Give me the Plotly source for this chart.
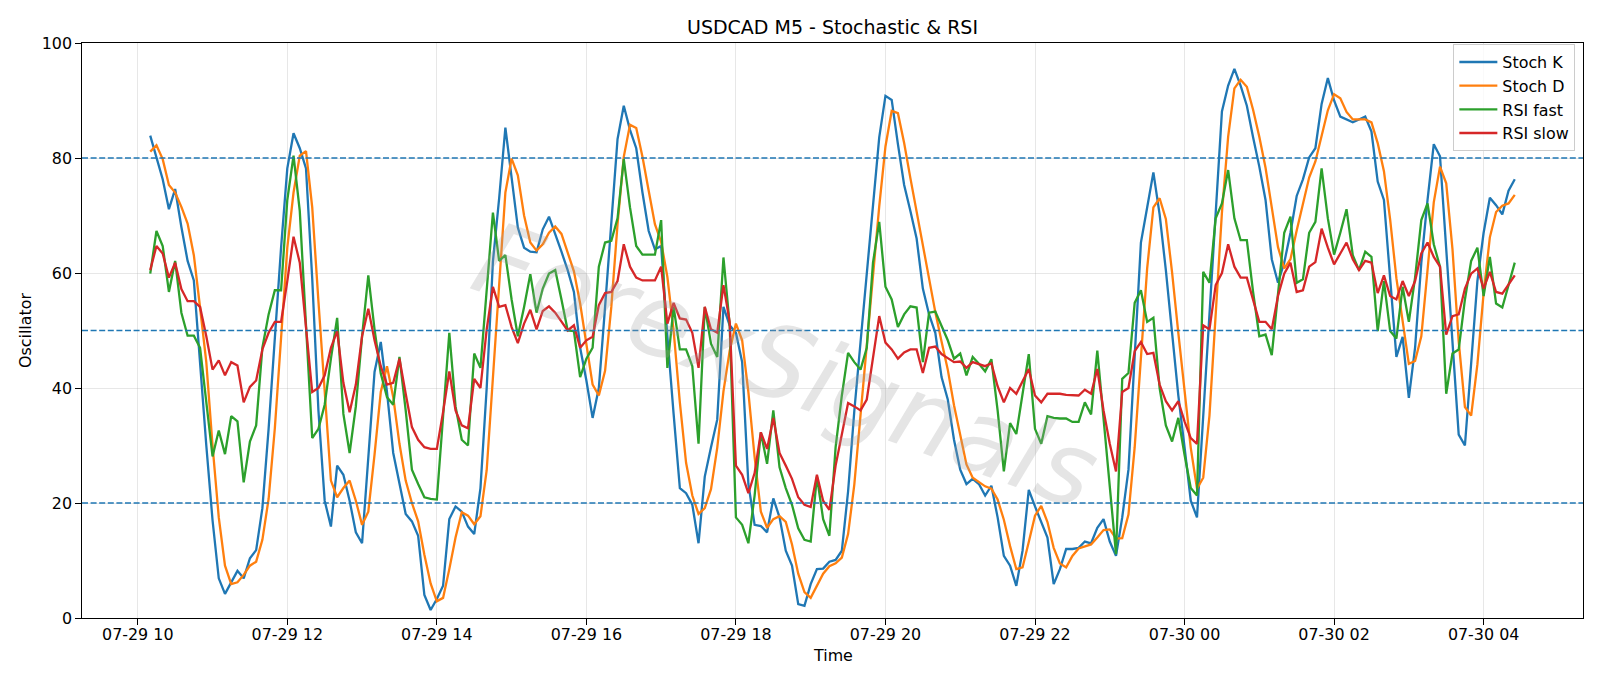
import pandas as pd
import plotly.graph_objects as go

# ---------------- data ----------------
start_time = "2025-07-29 10:10"
n_bars = 220
times = pd.date_range(start_time, periods=n_bars, freq="5min")

stoch_k = [
    83.9, 80.0, 76.3, 71.1, 74.6, 68.0, 62.1, 58.7, 44.0, 30.0,
    17.0, 6.9, 4.2, 6.3, 8.2, 6.9, 10.4, 11.8, 19.1, 32.9,
    49.0, 64.4, 78.2, 84.3, 81.7, 78.2, 59.0, 36.0, 20.4, 15.9,
    26.5, 24.9, 20.4, 14.9, 13.0, 27.7, 42.8, 48.0, 39.3, 28.7,
    23.3, 18.1, 16.8, 14.3, 4.0, 1.4, 3.3, 5.6, 17.2, 19.4,
    18.5, 15.9, 14.6, 22.6, 40.0, 62.0, 73.0, 85.3, 76.6, 67.9,
    64.4, 63.7, 63.6, 67.6, 69.8, 66.9, 63.7, 60.5, 56.7, 47.0,
    41.3, 34.8, 40.0, 54.1, 68.2, 83.3, 89.1, 84.9, 81.7, 74.0,
    67.3, 64.1, 64.7, 49.0, 35.5, 22.6, 21.7, 19.7, 13.0, 24.6,
    29.7, 34.5, 54.1, 50.9, 49.6, 44.5, 23.3, 16.2, 16.0, 14.9,
    20.8, 17.5, 11.7, 9.1, 2.4, 2.1, 5.9, 8.5, 8.6, 9.8,
    10.1, 11.7, 22.0, 36.0, 48.0, 59.5, 71.6, 83.6, 90.8, 90.1,
    82.4, 75.3, 70.8, 66.0, 57.3, 52.8, 49.6, 41.9, 38.0, 31.0,
    25.8, 23.3, 24.2, 23.3, 21.3, 23.0, 17.5, 10.8, 9.1, 5.6,
    11.7, 22.3, 19.4, 16.8, 14.0, 5.9, 8.5, 12.0, 12.0, 12.2,
    13.3, 13.0, 15.7, 17.2, 13.3, 10.8, 17.5, 25.8, 45.7, 65.3,
    71.4, 77.5, 70.2, 60.5, 49.6, 38.7, 29.7, 20.4, 17.5, 35.2,
    52.8, 70.5, 88.1, 92.6, 95.5, 92.6, 89.1, 83.6, 78.5, 72.7,
    62.4, 58.3, 61.8, 67.0, 73.4, 76.3, 80.1, 81.7, 89.4, 93.9,
    90.0, 87.2, 86.7, 86.2, 86.7, 87.2, 84.6, 75.9, 72.7, 59.2,
    45.4, 48.9, 38.3, 47.0, 61.8, 72.7, 82.4, 80.3, 64.2, 48.1,
    31.9, 30.0, 43.8, 58.6, 67.0, 73.1, 71.8, 70.2, 74.3, 76.3,
]

stoch_d = [
    81.1, 82.2, 79.8, 75.3, 74.0, 71.5, 68.6, 63.1, 54.0, 44.5,
    30.0, 17.5, 9.1, 5.9, 6.2, 7.5, 9.1, 9.8, 13.6, 20.7,
    33.0, 49.0, 64.4, 74.0, 80.4, 81.2, 71.4, 55.0, 38.5, 23.9,
    21.0, 22.6, 23.9, 20.4, 16.2, 18.5, 28.4, 39.3, 43.8, 38.4,
    30.3, 23.9, 20.0, 16.8, 11.0, 6.0, 2.9, 3.5, 8.5, 14.0,
    18.4, 17.8, 16.3, 17.7, 25.7, 41.5, 58.3, 74.0, 79.9, 77.0,
    70.0, 65.3, 63.9, 65.0, 67.0, 68.1, 66.8, 63.5, 60.3, 54.7,
    47.5, 40.6, 38.7, 43.0, 54.1, 68.5, 80.2, 85.8, 85.2, 80.2,
    74.3, 68.5, 65.4, 59.3, 50.0, 37.5, 27.0, 21.3, 18.1, 19.1,
    22.4, 29.6, 39.4, 46.5, 51.2, 48.3, 39.3, 28.0, 18.5, 15.7,
    17.2, 17.7, 16.7, 12.8, 7.7, 4.5, 3.5, 5.5, 7.7, 9.0,
    9.5, 10.5, 14.6, 23.2, 35.3, 47.8, 59.7, 71.6, 82.0, 88.2,
    87.8, 82.6, 76.5, 70.7, 64.7, 58.7, 53.2, 48.1, 43.2, 37.0,
    31.6, 26.7, 24.4, 23.6, 22.9, 22.5, 20.6, 17.1, 12.5, 8.5,
    8.8, 13.2, 17.8, 19.5, 16.7, 12.2, 9.5, 8.8, 10.8, 12.1,
    12.5, 12.8, 14.0, 15.3, 15.4, 13.8, 13.9, 18.0, 29.7, 45.6,
    60.8, 71.4, 73.0, 69.4, 60.1, 49.6, 39.3, 29.6, 22.5, 24.4,
    35.2, 52.8, 70.5, 83.7, 92.1, 93.6, 92.4, 88.4, 83.7, 78.3,
    71.2, 64.5, 60.8, 62.4, 67.4, 72.2, 76.6, 79.4, 83.7, 88.3,
    91.1, 90.4, 88.0, 86.7, 86.7, 86.7, 86.2, 82.6, 77.7, 69.3,
    59.1, 51.2, 44.2, 44.7, 49.0, 60.5, 72.3, 78.5, 75.6, 64.2,
    48.1, 36.7, 35.2, 44.1, 56.5, 66.2, 70.6, 71.7, 72.1, 73.6,
]

rsi_fast = [
    59.9, 67.3, 64.7, 56.7, 62.1, 53.1, 49.1, 49.1, 47.0, 37.4,
    28.1, 32.6, 28.5, 35.1, 34.2, 23.6, 30.7, 33.5, 47.0, 52.8,
    57.0, 57.0, 72.7, 80.4, 70.8, 50.9, 31.3, 32.9, 37.1, 45.1,
    52.2, 35.5, 28.7, 36.8, 49.0, 59.6, 50.2, 42.5, 38.4, 37.1,
    45.4, 36.1, 25.8, 23.3, 21.0, 20.7, 20.6, 35.0, 49.6, 36.8,
    31.0, 30.0, 46.0, 43.5, 57.3, 70.5, 62.1, 63.1, 55.4, 49.0,
    54.1, 59.8, 53.1, 57.3, 59.9, 60.5, 55.4, 50.0, 49.9, 41.9,
    45.1, 47.0, 61.1, 65.3, 65.6, 69.5, 79.8, 71.4, 64.7, 63.2,
    63.2, 63.2, 69.2, 43.5, 54.1, 46.7, 46.7, 43.8, 30.3, 54.1,
    47.7, 45.4, 62.7, 50.9, 17.5, 16.2, 13.0, 21.3, 32.3, 26.8,
    36.1, 26.2, 22.6, 19.7, 15.6, 13.6, 13.3, 24.6, 17.2, 14.3,
    29.7, 38.7, 46.1, 44.5, 43.2, 47.0, 61.8, 68.9, 57.6, 55.4,
    50.6, 52.8, 54.2, 54.0, 44.5, 53.1, 53.3, 50.9, 48.3, 45.1,
    46.0, 42.2, 45.4, 44.2, 42.9, 45.0, 36.1, 25.5, 33.9, 32.0,
    38.7, 45.9, 32.9, 30.3, 35.1, 34.8, 34.7, 34.7, 34.1, 34.1,
    37.5, 35.4, 46.5, 34.5, 22.6, 11.1, 41.6, 42.6, 54.8, 57.0,
    51.5, 52.2, 40.0, 33.5, 30.7, 34.8, 28.4, 22.6, 21.3, 60.2,
    58.3, 69.5, 72.1, 77.9, 69.5, 65.7, 65.7, 56.7, 49.0, 49.3,
    45.7, 56.7, 67.0, 69.8, 58.3, 58.9, 67.0, 68.9, 78.2, 69.5,
    63.2, 67.0, 71.1, 63.1, 60.5, 63.7, 62.8, 49.9, 58.6, 49.9,
    48.6, 57.6, 51.5, 59.2, 69.2, 72.1, 65.0, 61.1, 39.0, 46.0,
    46.7, 55.4, 62.1, 64.4, 56.0, 62.8, 54.7, 54.0, 58.0, 61.8,
]

rsi_slow = [
    60.5, 64.7, 63.4, 59.2, 61.8, 57.2, 55.1, 55.1, 54.1, 49.0,
    43.2, 44.8, 42.2, 44.5, 43.9, 37.5, 40.2, 41.3, 46.7, 49.6,
    51.5, 51.5, 58.6, 66.3, 61.8, 50.2, 39.3, 40.0, 42.2, 47.0,
    49.9, 40.9, 35.8, 40.6, 49.0, 53.8, 48.3, 43.8, 40.6, 40.9,
    45.1, 39.0, 33.2, 31.0, 29.7, 29.4, 29.4, 35.8, 42.9, 36.1,
    33.5, 33.0, 41.6, 40.0, 50.2, 57.6, 54.1, 54.4, 50.6, 47.8,
    51.2, 53.6, 50.2, 53.4, 54.2, 53.1, 51.5, 50.0, 50.9, 47.0,
    48.3, 48.9, 54.4, 56.5, 56.7, 58.6, 65.0, 61.1, 59.2, 58.7,
    58.7, 58.7, 61.1, 51.2, 54.8, 52.1, 51.9, 49.6, 43.5, 54.1,
    50.2, 49.6, 57.9, 51.5, 26.5, 24.9, 21.7, 25.2, 32.3, 29.4,
    34.8, 28.7, 26.5, 24.2, 21.0, 19.7, 19.3, 24.9, 20.4, 18.8,
    26.5, 32.3, 37.4, 36.8, 36.1, 38.0, 45.1, 52.5, 47.9, 46.7,
    45.1, 46.2, 46.7, 46.7, 42.6, 47.0, 47.2, 45.9, 45.2, 44.5,
    44.6, 43.5, 44.5, 44.2, 43.8, 44.3, 40.3, 37.5, 40.0, 39.0,
    41.2, 43.3, 38.7, 37.5, 39.0, 39.0, 39.0, 38.8, 38.7, 38.7,
    39.7, 39.0, 43.3, 36.1, 30.3, 25.5, 39.3, 40.0, 46.4, 48.0,
    45.9, 46.1, 40.6, 37.7, 36.1, 37.7, 34.2, 31.3, 30.3, 50.9,
    50.2, 57.9, 60.0, 65.0, 61.1, 59.2, 59.2, 55.4, 51.5, 51.5,
    50.2, 56.0, 59.9, 61.8, 56.7, 57.0, 61.1, 61.9, 67.7, 64.4,
    61.5, 63.4, 65.3, 62.4, 60.5, 62.1, 61.8, 56.5, 59.6, 56.0,
    55.4, 58.6, 56.0, 58.6, 63.4, 65.3, 62.8, 61.1, 49.3, 52.5,
    52.8, 57.3, 59.9, 60.8, 57.3, 60.2, 56.7, 56.4, 58.0, 59.6,
]

series_names = ["Stoch K", "Stoch D", "RSI fast", "RSI slow"]
series_colors = ["#1f77b4", "#ff7f0e", "#2ca02c", "#d62728"]
levels = [80, 20, 50]
y_ticks = [0, 20, 40, 60, 80, 100]
title_text = "USDCAD M5 - Stochastic & RSI"
watermark_text = "ForexSignals"

# ---------------- figure ----------------
W, H = 1600, 686
ML, MR, MT, MB = 82, 17, 43, 68
FONT = "DejaVu Sans"
FS = 15.9

fig = go.Figure()
for name, color, vals in zip(series_names, series_colors,
                             [stoch_k, stoch_d, rsi_fast, rsi_slow]):
    fig.add_trace(go.Scatter(x=times, y=vals, mode="lines", name=name,
                             line=dict(color=color, width=2.3)))

for lv in levels:
    fig.add_shape(type="line", xref="paper", x0=0, x1=1, yref="y", y0=lv, y1=lv,
                  line=dict(color="#1f77b4", width=1.5, dash="6px,2.6px"), layer="above")

span = times[-1] - times[0]
x_range = [times[0] - span * 0.05, times[-1] + span * 0.05]

axis_common = dict(
    showline=True, mirror=True, linecolor="black", linewidth=1.27,
    ticks="outside", ticklen=5.6, tickwidth=1.27, tickcolor="black",
    showgrid=True, gridcolor="rgba(176,176,176,0.3)", gridwidth=1.27,
    zeroline=False, tickfont=dict(family=FONT, size=FS, color="black"),
    automargin=False,
)

fig.update_layout(
    width=W, height=H, autosize=False,
    margin=dict(l=ML, r=MR, t=MT, b=MB, pad=0),
    paper_bgcolor="white", plot_bgcolor="white",
    font=dict(family=FONT, size=FS, color="black"),
    title=dict(text=title_text, x=(ML + (W - ML - MR) / 2) / W, xanchor="center",
               y=1 - 27 / H, yanchor="middle", yref="container",
               font=dict(family=FONT, size=19, color="black")),
    xaxis=dict(type="date", range=x_range, dtick=2 * 3600 * 1000,
               tick0="2025-07-29 10:00", tickformat="%m-%d %H",
               ticklabelstandoff=-4, **axis_common),
    yaxis=dict(range=[0, 100], tickvals=y_ticks, **axis_common),
    showlegend=True,
    legend=dict(x=0.9949, y=0.998, xanchor="right", yanchor="top",
                bgcolor="rgba(255,255,255,0.8)", bordercolor="#cccccc", borderwidth=1,
                font=dict(family=FONT, size=FS, color="black"),
                tracegroupgap=0, itemwidth=38),
)

plot_h = H - MT - MB
plot_w = W - ML - MR
fig.add_annotation(text="Time", xref="paper", yref="paper", x=0.5, y=-(656 - (H - MB)) / plot_h,
                   showarrow=False, xanchor="center", yanchor="middle",
                   font=dict(family=FONT, size=FS, color="black"))
fig.add_annotation(text="Oscillator", xref="paper", yref="paper", x=(25.5 - ML) / plot_w, y=0.5,
                   showarrow=False, xanchor="center", yanchor="middle", textangle=-90,
                   font=dict(family=FONT, size=FS, color="black"))
fig.add_annotation(text=watermark_text, xref="paper", yref="paper",
                   x=(786 - ML) / plot_w, y=1 - (365 - MT) / plot_h,
                   showarrow=False, xanchor="center", yanchor="middle", textangle=20,
                   font=dict(family=FONT, size=102, color="rgba(160,160,160,0.28)", style="italic"))

fig.write_html("out.html")
